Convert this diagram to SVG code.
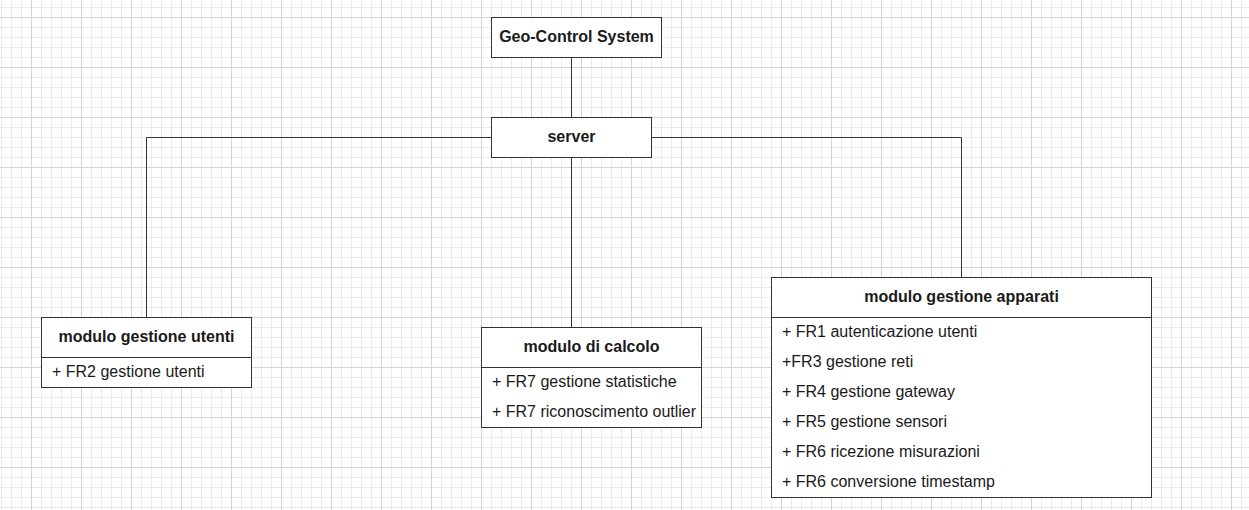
<svg xmlns="http://www.w3.org/2000/svg" width="1249" height="510" viewBox="0 0 1249 510">
<style>
.box{fill:#ffffff;stroke:#333333;stroke-width:1}
.div{stroke:#333333;stroke-width:1;fill:none}
.conn{stroke:#333333;stroke-width:1;fill:none}
.title{font-family:"Liberation Sans",Arial,sans-serif;font-size:16px;font-weight:bold;fill:#1a1a1a;text-anchor:middle}
.item{font-family:"Liberation Sans",Arial,sans-serif;font-size:16px;fill:#1a1a1a}
</style>
<defs>
<pattern id="grid" x="31" y="17" width="50" height="50" patternUnits="userSpaceOnUse">
<g fill="#ebebeb">
<rect x="10" y="0" width="1" height="50"/>
<rect x="20" y="0" width="1" height="50"/>
<rect x="30" y="0" width="1" height="50"/>
<rect x="40" y="0" width="1" height="50"/>
<rect x="0" y="10" width="50" height="1"/>
<rect x="0" y="20" width="50" height="1"/>
<rect x="0" y="30" width="50" height="1"/>
<rect x="0" y="40" width="50" height="1"/>
</g>
<g fill="#d4d4d4">
<rect x="0" y="0" width="1" height="50"/>
<rect x="0" y="0" width="50" height="1"/>
</g>
</pattern>
</defs>
<rect x="0" y="0" width="1249" height="510" fill="#ffffff"/>
<rect x="0" y="0" width="1249" height="510" fill="url(#grid)"/>

<g id="connectors">
<path class="conn" d="M571.5 57.5 V117.5"/>
<path class="conn" d="M571.5 157.5 V327.5"/>
<path class="conn" d="M491.5 137.5 H146.5 V317.5"/>
<path class="conn" d="M651.5 137.5 H961.5 V277.5"/>
</g>

<g id="geo-control-system">
<rect class="box" x="491.5" y="17.5" width="170" height="40"/>
<text class="title" x="576.5" y="42.3">Geo-Control System</text>
</g>

<g id="server">
<rect class="box" x="491.5" y="117.5" width="160" height="40"/>
<text class="title" x="571.5" y="142.3">server</text>
</g>

<g id="modulo-gestione-utenti">
<rect class="box" x="41.5" y="317.5" width="210" height="70"/>
<line class="div" x1="41.5" y1="357.5" x2="251.5" y2="357.5"/>
<text class="title" x="146.5" y="342.3">modulo gestione utenti</text>
<text class="item" x="52" y="377.3">+ FR2 gestione utenti</text>
</g>

<g id="modulo-di-calcolo">
<rect class="box" x="481.5" y="327.5" width="220" height="100"/>
<line class="div" x1="481.5" y1="367.5" x2="701.5" y2="367.5"/>
<text class="title" x="591.5" y="352.3">modulo di calcolo</text>
<text class="item" x="492" y="387.3">+ FR7 gestione statistiche</text>
<text class="item" x="492" y="417.3">+ FR7 riconoscimento outlier</text>
</g>

<g id="modulo-gestione-apparati">
<rect class="box" x="771.5" y="277.5" width="380" height="220"/>
<line class="div" x1="771.5" y1="317.5" x2="1151.5" y2="317.5"/>
<text class="title" x="961.5" y="302.3">modulo gestione apparati</text>
<text class="item" x="782" y="337.3">+ FR1 autenticazione utenti</text>
<text class="item" x="782" y="367.3">+FR3 gestione reti</text>
<text class="item" x="782" y="397.3">+ FR4 gestione gateway</text>
<text class="item" x="782" y="427.3">+ FR5 gestione sensori</text>
<text class="item" x="782" y="457.3">+ FR6 ricezione misurazioni</text>
<text class="item" x="782" y="487.3">+ FR6 conversione timestamp</text>
</g>
</svg>
